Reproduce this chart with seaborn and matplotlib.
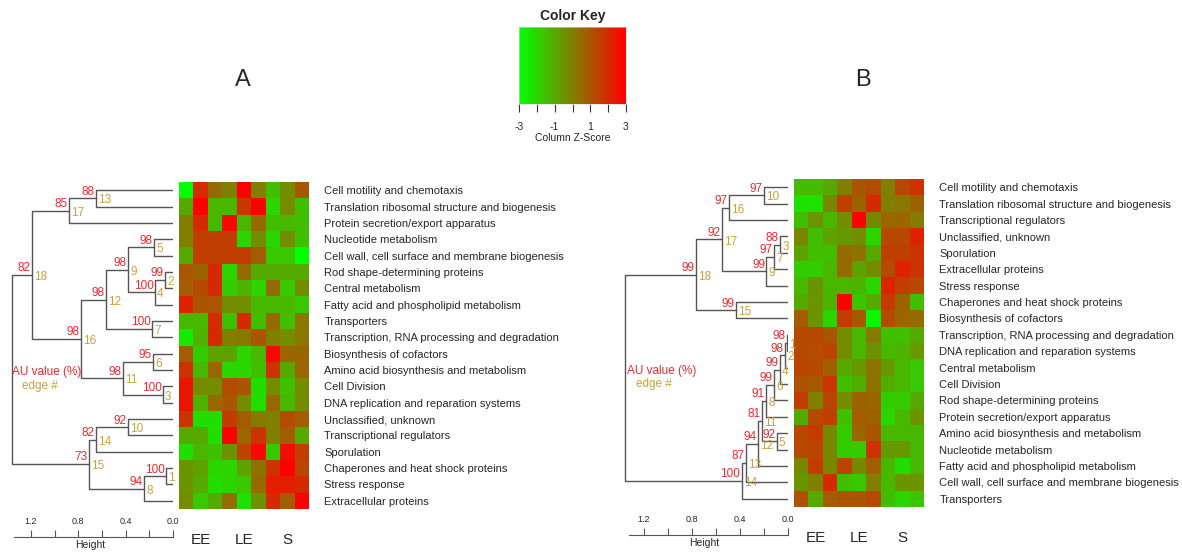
import numpy as np
import pandas as pd
import matplotlib
matplotlib.use('Agg')
import matplotlib.pyplot as plt
from matplotlib.colors import LinearSegmentedColormap
import seaborn as sns

sns.set_style('white')
plt.rcParams['font.family'] = ['Liberation Sans', 'DejaVu Sans']

# ---- data ----
groups = ['EE', 'LE', 'S']

rows_a = ['Cell motility and chemotaxis', 'Translation ribosomal structure and biogenesis',
          'Protein secretion/export apparatus', 'Nucleotide metabolism',
          'Cell wall, cell surface and membrane biogenesis', 'Rod shape-determining proteins',
          'Central metabolism', 'Fatty acid and phospholipid metabolism', 'Transporters',
          'Transcription, RNA processing and degradation', 'Biosynthesis of cofactors',
          'Amino acid biosynthesis and metabolism', 'Cell Division',
          'DNA replication and reparation systems', 'Unclassified, unknown',
          'Transcriptional regulators', 'Sporulation', 'Chaperones and heat shock proteins',
          'Stress response', 'Extracellular proteins']

rows_b = ['Cell motility and chemotaxis', 'Translation ribosomal structure and biogenesis',
          'Transcriptional regulators', 'Unclassified, unknown', 'Sporulation',
          'Extracellular proteins', 'Stress response', 'Chaperones and heat shock proteins',
          'Biosynthesis of cofactors', 'Transcription, RNA processing and degradation',
          'DNA replication and reparation systems', 'Central metabolism', 'Cell Division',
          'Rod shape-determining proteins', 'Protein secretion/export apparatus',
          'Amino acid biosynthesis and metabolism', 'Nucleotide metabolism',
          'Fatty acid and phospholipid metabolism',
          'Cell wall, cell surface and membrane biogenesis', 'Transporters']

z_a = [
    [-3.0, 2.0, 0.5, 0.0, 3.0, 0.0, -1.5, -0.3, 1.0],
    [-1.0, 3.0, -1.3, -1.3, 1.7, 3.0, -2.0, -0.3, -1.5],
    [0.0, 2.0, -1.3, 2.8, -1.3, 0.5, -1.5, -1.3, -1.5],
    [0.0, 1.5, 1.5, 1.5, -2.0, -0.3, -2.0, -0.3, -1.5],
    [-1.0, 1.5, 1.5, 1.5, 1.5, 0.8, -1.7, -1.7, -3.0],
    [1.0, 0.7, 2.0, -2.0, 0.5, -1.0, -1.0, -1.0, -1.0],
    [0.8, 1.3, 2.0, -1.8, -1.2, -2.0, 0.5, -1.7, -0.3],
    [2.2, 1.0, 1.0, -0.3, -0.3, -1.3, -1.3, -1.3, -1.7],
    [-1.3, -1.3, 2.0, -1.5, 2.0, -1.5, 0.5, -1.5, 0.2],
    [-2.5, -1.2, 2.0, 0.0, 0.2, 1.0, 0.0, -0.3, 0.2],
    [0.8, -1.8, -0.8, -0.8, -2.0, -1.3, 2.8, 0.6, 0.6],
    [1.8, -1.3, 0.6, -2.0, -2.0, -1.5, 1.8, -1.0, 0.6],
    [2.5, -0.3, -0.3, 1.2, 1.0, -2.2, -0.3, -1.5, -0.3],
    [2.5, -1.2, 0.6, 1.0, -0.3, -2.2, 0.6, -1.3, -0.3],
    [1.8, -2.2, -2.2, 1.6, 0.8, 0.1, 0.0, 1.2, 0.8],
    [-1.0, -1.0, -2.2, 3.0, 0.6, 1.8, 0.0, 0.8, -1.0],
    [-2.2, -1.3, -1.5, -0.5, 1.4, 2.8, -1.7, 2.7, 1.5],
    [-0.5, -0.8, -2.0, -2.0, -0.8, 0.3, 1.8, 3.0, 1.4],
    [-0.5, -1.0, -2.2, -2.0, -1.7, 0.5, 2.3, 2.3, 2.0],
    [-0.3, -1.7, -1.0, 0.4, -2.3, -0.5, 2.0, 0.8, 3.0],
]

z_b = [
    [-1.4, -1.4, -1.0, 0.0, 1.0, 1.2, 0.0, 1.3, 1.8],
    [-2.3, -2.3, -0.2, 1.5, 0.7, 2.0, 0.0, 0.2, 0.7],
    [-1.5, -0.5, -1.3, -0.3, 3.0, -0.2, 0.6, 0.6, 0.1],
    [-0.2, -1.5, -0.8, -0.6, -0.3, -2.0, 1.3, 1.3, 2.2],
    [-0.8, -1.5, -1.5, 0.5, 0.3, -1.0, 1.5, 1.5, 1.8],
    [-1.8, -1.8, -1.3, 0.5, -0.8, -0.3, 1.2, 2.2, 1.8],
    [-1.3, -0.5, -1.3, -1.3, -1.2, -2.0, 2.2, 1.5, 1.3],
    [-1.0, -0.5, -1.2, 3.0, -1.6, -1.0, 1.6, 0.7, -1.5],
    [0.8, -0.5, -2.0, 1.6, 0.9, -2.8, 1.2, 0.6, 0.5],
    [1.3, 1.3, 1.0, -0.3, -1.3, 0.1, -1.5, -1.5, -1.0],
    [1.3, 1.2, 1.4, -0.3, -1.3, -0.4, -1.3, -1.2, -0.6],
    [1.4, 1.3, 0.8, -1.0, -0.6, 0.3, -0.6, -1.3, -1.7],
    [1.1, 0.9, 1.7, -1.5, -1.1, 0.3, -1.1, -1.3, -1.7],
    [1.5, 0.0, 1.4, -0.3, 0.7, 0.6, -1.8, -1.8, -1.0],
    [-1.0, 1.3, 1.5, -1.5, 0.8, 0.7, -2.0, -1.3, -0.5],
    [1.3, 1.6, -0.2, -1.8, 0.6, 1.0, -1.3, -1.3, -1.3],
    [1.3, 1.4, -0.2, -1.8, -1.8, 1.8, -0.6, -0.6, -1.3],
    [-0.2, 1.6, -0.2, 1.4, -0.2, 0.8, -1.3, -2.2, -1.3],
    [-0.5, 0.0, 2.0, -1.5, -1.7, 0.0, -1.3, -0.5, -0.5],
    [1.1, -1.0, 0.8, 1.0, 1.0, 1.3, -1.5, -2.0, -1.6],
]

# dendrogram merges: edge number, joined members (leaf Lk or node nk), height, AU value
edge_a = [13, 17, 5, 2, 4, 9, 7, 12, 6, 3, 11, 16, 18, 10, 14, 1, 8, 15, 19]
join_a = [('L1', 'L2'), ('n13', 'L3'), ('L4', 'L5'), ('L6', 'L7'), ('n2', 'L8'),
          ('n5', 'n4'), ('L9', 'L10'), ('n9', 'n7'), ('L11', 'L12'), ('L13', 'L14'),
          ('n6', 'n3'), ('n12', 'n11'), ('n17', 'n16'), ('L15', 'L16'), ('n10', 'L17'),
          ('L18', 'L19'), ('n1', 'L20'), ('n14', 'n8'), ('n18', 'n15')]
height_a = [0.65, 0.88, 0.16, 0.068, 0.152, 0.38, 0.178, 0.566, 0.169, 0.085,
            0.42, 0.78, 1.19, 0.38, 0.65, 0.059, 0.245, 0.71, 1.36]
au_a = [88, 85, 98, 99, 100, 98, 100, 98, 95, 100, 98, 98, 82, 92, 82, 100, 94, 73, None]

edge_b = [10, 16, 3, 7, 9, 17, 15, 18, 1, 2, 4, 6, 8, 5, 11, 12, 13, 14, 19]
join_b = [('L1', 'L2'), ('n10', 'L3'), ('L4', 'L5'), ('n3', 'L6'), ('n7', 'L7'),
          ('n16', 'n9'), ('L8', 'L9'), ('n17', 'n15'), ('L10', 'L11'), ('n1', 'L12'),
          ('n2', 'L13'), ('n4', 'L14'), ('n6', 'L15'), ('L16', 'L17'), ('n8', 'n5'),
          ('n11', 'L18'), ('n12', 'L19'), ('n13', 'L20'), ('n18', 'n14')]
height_b = [0.20, 0.49, 0.067, 0.114, 0.18, 0.55, 0.433, 0.77, 0.006, 0.025,
            0.067, 0.117, 0.183, 0.094, 0.215, 0.248, 0.353, 0.386, 1.36]
au_b = [97, 97, 88, 97, 99, 92, 99, 99, 98, 98, 99, 99, 91, 92, 81, 94, 87, 100, None]

height_ticks = [0.0, 0.2, 0.4, 0.6, 0.8, 1.0, 1.2]
height_labels = ['0.0', '', '0.4', '', '0.8', '', '1.2']
key_ticks = [-3, -2, -1, 0, 1, 2, 3]
key_labels = ['-3', '', '-1', '', '1', '', '3']

# ---- layout helpers ----
W, H = 1182, 553
RED = '#f0282d'
GOLD = '#c9a23a'
LINE = '#555555'

fig = plt.figure(figsize=(W / 100, H / 100), dpi=100)
cmap = LinearSegmentedColormap.from_list('rg', ['#00ff00', '#808000', '#ff0000'])


def px_axes(x0, y0, x1, y1):
    return fig.add_axes([x0 / W, 1 - y1 / H, (x1 - x0) / W, (y1 - y0) / H])


def draw_heatmap(ax, z, rows):
    df = pd.DataFrame(z, index=rows)
    sns.heatmap(df, ax=ax, cmap=cmap, vmin=-3, vmax=3, cbar=False,
                xticklabels=False, yticklabels=True)
    ax.yaxis.tick_right()
    ax.set_yticks(np.arange(len(rows)) + 0.5)
    ax.set_yticklabels(rows, rotation=0, fontsize=8)
    ax.tick_params(axis='y', length=0, pad=11)
    ax.set_xticks([1.5, 4.5, 7.5])
    ax.set_xticklabels(groups, fontsize=11)
    ax.tick_params(axis='x', length=0, pad=17)
    ax.set_xlabel('')
    ax.set_ylabel('')
    return ax


def draw_dendro(ax, edges, joins, heights, aus, n_leaves):
    pos = {'L%d' % (i + 1): (i + 0.5, 0.0) for i in range(n_leaves)}
    for e, (a, b), h, au in zip(edges, joins, heights, aus):
        ya, ha = pos[a]
        yb, hb = pos[b]
        ax.plot([ha, h, h, hb], [ya, ya, yb, yb], color=LINE, lw=1)
        mid = (ya + yb) / 2
        pos['n%d' % e] = (mid, h)
        if au is not None:
            ax.annotate(str(au), (h, mid), xytext=(-1, 0.5), textcoords='offset points',
                        ha='right', va='bottom', color=RED, fontsize=8.5)
            ax.annotate(str(e), (h, mid), xytext=(1.5, -1.5), textcoords='offset points',
                        ha='left', va='center', color=GOLD, fontsize=8.5)
    ax.set_xlim(1.4, 0)
    ax.set_ylim(n_leaves, 0)
    ax.axis('off')


def draw_scale(ax, right_h):
    ax.set_xlim(1.4, 0)
    for s in ['top', 'left', 'right']:
        ax.spines[s].set_visible(False)
    ax.spines['bottom'].set_bounds(0, right_h)
    ax.spines['bottom'].set_color(LINE)
    ax.set_yticks([])
    ax.set_xticks(height_ticks)
    ax.set_xticklabels(height_labels)
    ax.tick_params(axis='x', direction='in', length=5, color=LINE, labelsize=6.5,
                   bottom=True, top=False, labelbottom=False, labeltop=True, pad=1)
    ax.set_xlabel('Height', fontsize=7.5, labelpad=2.5)


# ---- panel A ----
hm_a = draw_heatmap(px_axes(179, 182, 309, 509), z_a, rows_a)
draw_dendro(px_axes(7.4, 182, 173, 509), edge_a, join_a, height_a, au_a, len(rows_a))
draw_scale(px_axes(7.4, 527, 173, 537), 1.344)
fig.text(12 / W, 1 - 372 / H, 'AU value (%)', color=RED, fontsize=8.5, va='center')
fig.text(22 / W, 1 - 386 / H, 'edge #', color=GOLD, fontsize=8.5, va='center')
fig.text(243 / W, 1 - 80 / H, 'A', fontsize=17, ha='center', va='center')

# ---- panel B ----
draw_heatmap(px_axes(794, 179, 924, 507), z_b, rows_b)
draw_dendro(px_axes(620, 179, 788, 507), edge_b, join_b, height_b, au_b, len(rows_b))
draw_scale(px_axes(620, 525, 788, 535), 1.325)
fig.text(627 / W, 1 - 371 / H, 'AU value (%)', color=RED, fontsize=8.5, va='center')
fig.text(636 / W, 1 - 384 / H, 'edge #', color=GOLD, fontsize=8.5, va='center')
fig.text(863 / W, 1 - 80 / H, 'B', fontsize=17, ha='center', va='center')

# ---- color key ----
cax = px_axes(519, 27, 626, 104)
cb = fig.colorbar(hm_a.collections[0], cax=cax, orientation='horizontal')
cb.set_ticks(key_ticks)
cb.set_ticklabels(key_labels)
cb.outline.set_linewidth(0.4)
cb.outline.set_edgecolor('#dddddd')
cax.tick_params(axis='x', length=6, width=0.8, color='#333333', labelsize=7.5, pad=7)
cax.set_xlabel('Column Z-Score', fontsize=7.5, labelpad=1)
cax.set_title('Color Key', fontsize=10, fontweight='bold', pad=5)

fig.savefig('out.png', dpi=100)
